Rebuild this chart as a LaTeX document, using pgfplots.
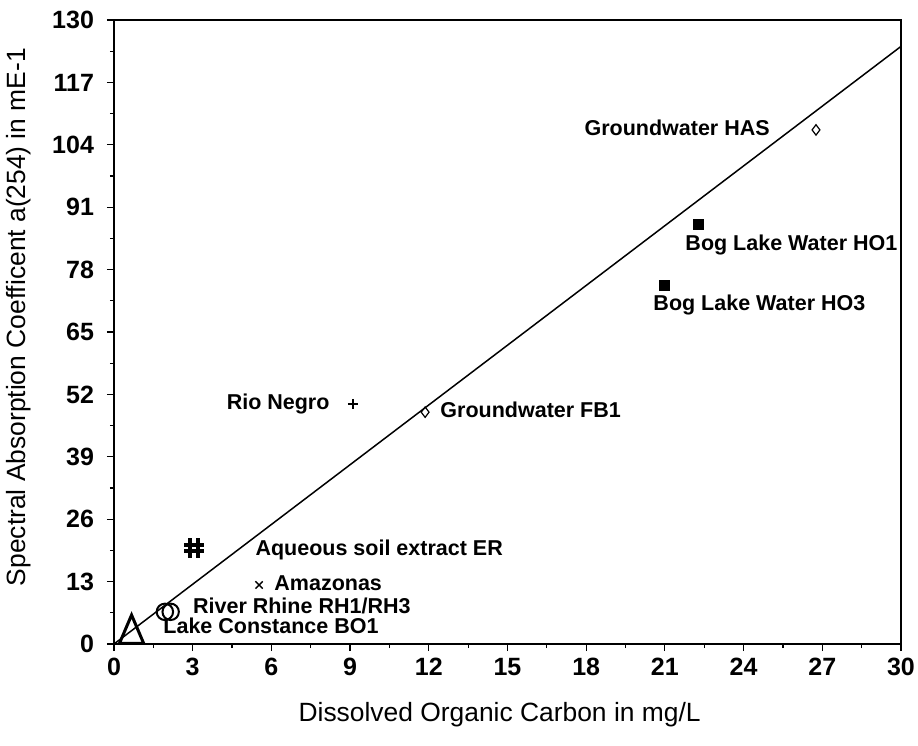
\documentclass[border=0pt]{standalone}
\usepackage{fontspec}
\setmainfont{Liberation Sans}
\usepackage{pgfplots}
\pgfplotsset{compat=1.18}
\pgfdeclareplotmark{hash}{%
  \pgfpathmoveto{\pgfqpoint{-0.38\pgfplotmarksize}{-\pgfplotmarksize}}%
  \pgfpathlineto{\pgfqpoint{-0.38\pgfplotmarksize}{\pgfplotmarksize}}%
  \pgfpathmoveto{\pgfqpoint{0.38\pgfplotmarksize}{-\pgfplotmarksize}}%
  \pgfpathlineto{\pgfqpoint{0.38\pgfplotmarksize}{\pgfplotmarksize}}%
  \pgfpathmoveto{\pgfqpoint{-\pgfplotmarksize}{-0.35\pgfplotmarksize}}%
  \pgfpathlineto{\pgfqpoint{\pgfplotmarksize}{-0.35\pgfplotmarksize}}%
  \pgfpathmoveto{\pgfqpoint{-\pgfplotmarksize}{0.35\pgfplotmarksize}}%
  \pgfpathlineto{\pgfqpoint{\pgfplotmarksize}{0.35\pgfplotmarksize}}%
  \pgfusepathqstroke}
\begin{document}
\begin{tikzpicture}
\path[use as bounding box] (-57pt,-51pt) rectangle (402pt,322pt);
\begin{axis}[
  scale only axis,
  width=393.5pt, height=312pt,
  xmin=0, xmax=30, ymin=0, ymax=130,
  xtick={0,3,...,30}, ytick={0,13,...,130},
  minor x tick num=1, minor y tick num=1,
  tick align=outside,
  xtick pos=bottom, ytick pos=left,
  major tick length=3.5pt, minor tick length=2pt,
  axis line style={line width=0.75pt},
  every tick/.style={black, line width=0.6pt},
  /pgf/number format/assume math mode=true,
  ticklabel style={font=\fontsize{12.5}{14}\selectfont\bfseries},
  yticklabel style={xshift=-3pt},
  xlabel={Dissolved Organic Carbon in mg/L},
  ylabel={Spectral Absorption Coefficent a(254) in mE-1},
  label style={font=\fontsize{13.2}{15}\selectfont},
  xlabel style={at={(axis description cs:0.49,-0.1234)}, anchor=base},
  ylabel style={at={(axis description cs:-0.1207,0.524)}, anchor=center},
  clip=false,
]
\addplot[black, line width=0.75pt, no marks] coordinates {(0,0) (30,124.5)};
% Groundwater HAS, FB1
\addplot[only marks, mark=diamond, mark size=2.6pt, black, line width=0.6pt] coordinates {(26.76,107.1) (11.86,48.3)};
% Bog lake water
\addplot[only marks, mark=square*, mark size=2.5pt, black] coordinates {(22.26,87.5) (21.0,74.8)};
% Rio Negro
\addplot[only marks, mark=+, mark size=2.6pt, black, line width=1pt] coordinates {(9.11,50.0)};
% Aqueous soil extract
\addplot[only marks, mark=hash, mark size=4.8pt, black, line width=2pt] coordinates {(3.05,20.0)};
% Amazonas
\addplot[only marks, mark=x, mark size=2.6pt, black, line width=0.7pt] coordinates {(5.53,12.3)};
% River Rhine
\addplot[only marks, mark=o, mark size=4.1pt, black, line width=1pt] coordinates {(1.94,6.7) (2.16,6.7)};
% Lake Constance
\addplot[only marks, mark=triangle, mark size=7pt, black, line width=1.5pt, mark options={yscale=1.35}] coordinates {(0.67,2.1)};
\begin{scope}[every node/.style={font=\fontsize{10.75}{12}\selectfont\bfseries, inner sep=0pt}]
\node[anchor=mid east] at (axis cs:25.01,107.1) {Groundwater HAS};
\node[anchor=mid west] at (axis cs:21.77,83.1) {Bog Lake Water HO1};
\node[anchor=mid west] at (axis cs:20.55,70.6) {Bog Lake Water HO3};
\node[anchor=mid east] at (axis cs:8.23,50.0) {Rio Negro};
\node[anchor=mid west] at (axis cs:12.43,48.3) {Groundwater FB1};
\node[anchor=mid west] at (axis cs:5.38,19.6) {Aqueous soil extract ER};
\node[anchor=mid west] at (axis cs:6.1,12.3) {Amazonas};
\node[anchor=mid west] at (axis cs:3.0,7.5) {River Rhine RH1/RH3};
\node[anchor=mid west] at (axis cs:1.87,3.3) {Lake Constance BO1};
\end{scope}
\end{axis}
\end{tikzpicture}
\end{document}
